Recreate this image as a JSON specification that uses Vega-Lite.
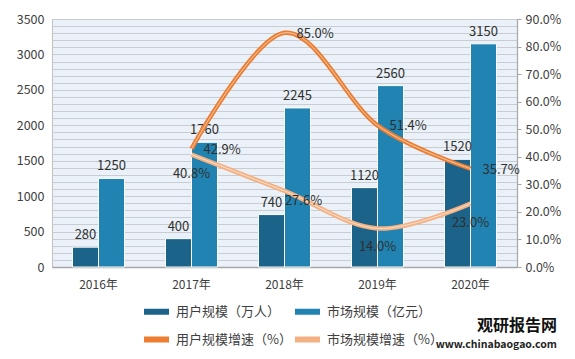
{
  "$schema": "https://vega.github.io/schema/vega-lite/v6.json",
  "autosize": {"type": "none"},
  "width": 465,
  "height": 248,
  "padding": {"left": 52, "top": 19, "right": 58, "bottom": 92},
  "background": "white",
  "config": {
    "font": "Noto Sans CJK SC",
    "view": {"fill": "#eaf1f8", "stroke": "#bfbfbf", "strokeWidth": 1},
    "axis": {"labelFont": "Noto Sans CJK SC", "labelColor": "#404040", "labelFontSize": 12, "title": null}
  },
  "title": {
    "text": "观研报告网",
    "subtitle": "www.chinabaogao.com",
    "orient": "bottom",
    "anchor": "end",
    "frame": "group",
    "fontSize": 16,
    "fontWeight": "bold",
    "color": "#111111",
    "subtitleFontSize": 10.5,
    "subtitleFontWeight": "bold",
    "subtitleColor": "#222222",
    "subtitlePadding": 6,
    "dx": 40,
    "offset": -34
  },
  "datasets": {
    "bars": [
      {"year": "2016年", "series": "用户规模（万人）", "value": 280},
      {"year": "2016年", "series": "市场规模（亿元）", "value": 1250},
      {"year": "2017年", "series": "用户规模（万人）", "value": 400},
      {"year": "2017年", "series": "市场规模（亿元）", "value": 1760},
      {"year": "2018年", "series": "用户规模（万人）", "value": 740},
      {"year": "2018年", "series": "市场规模（亿元）", "value": 2245},
      {"year": "2019年", "series": "用户规模（万人）", "value": 1120},
      {"year": "2019年", "series": "市场规模（亿元）", "value": 2560},
      {"year": "2020年", "series": "用户规模（万人）", "value": 1520},
      {"year": "2020年", "series": "市场规模（亿元）", "value": 3150}
    ],
    "lines": [
      {"year": "2017年", "series": "用户规模增速（%）", "value": 0.429},
      {"year": "2018年", "series": "用户规模增速（%）", "value": 0.85},
      {"year": "2019年", "series": "用户规模增速（%）", "value": 0.514},
      {"year": "2020年", "series": "用户规模增速（%）", "value": 0.357},
      {"year": "2017年", "series": "市场规模增速（%）", "value": 0.408},
      {"year": "2018年", "series": "市场规模增速（%）", "value": 0.276},
      {"year": "2019年", "series": "市场规模增速（%）", "value": 0.14},
      {"year": "2020年", "series": "市场规模增速（%）", "value": 0.23}
    ]
  },
  "encoding": {
    "x": {
      "field": "year", "type": "nominal", "sort": null,
      "scale": {"domain": ["2016年", "2017年", "2018年", "2019年", "2020年"], "paddingInner": 0.44, "paddingOuter": 0.22},
      "axis": {"labelAngle": 0, "ticks": false, "domainColor": "#a6a6a6", "domainWidth": 1.5, "labelPadding": 12, "grid": false}
    }
  },
  "layer": [
    {
      "data": {"name": "bars"},
      "encoding": {
        "y": {
          "field": "value", "type": "quantitative",
          "scale": {"domain": [0, 3500], "nice": false},
          "axis": {
            "values": [0,100,200,300,400,500,600,700,800,900,1000,1100,1200,1300,1400,1500,1600,1700,1800,1900,2000,2100,2200,2300,2400,2500,2600,2700,2800,2900,3000,3100,3200,3300,3400,3500],
            "labelExpr": "datum.value % 500 === 0 ? datum.label : ''",
            "format": "d",
            "ticks": false, "domain": false, "labelPadding": 8, "labelFontSize": 12.5,
            "grid": true, "gridColor": "#c9cdd1", "gridWidth": 1.2
          }
        }
      },
      "layer": [
        {
          "mark": {"type": "bar", "stroke": "white", "strokeWidth": 1},
          "encoding": {
            "xOffset": {"field": "series", "type": "nominal", "sort": ["用户规模（万人）", "市场规模（亿元）"]},
            "color": {
              "field": "series", "type": "nominal",
              "scale": {
                "domain": ["用户规模（万人）", "市场规模（亿元）", "用户规模增速（%）", "市场规模增速（%）"],
                "range": ["#1b6388", "#2083b1", "#ed7d31", "#f4b183"]
              },
              "legend": {
                "title": null, "orient": "none", "legendX": 89, "legendY": 277,
                "columns": 2, "direction": "horizontal",
                "symbolType": "stroke", "symbolSize": 625, "symbolStrokeWidth": 6,
                "labelFontSize": 13, "labelColor": "#404040", "labelOffset": 4,
                "columnPadding": -14, "rowPadding": 0, "padding": 0,
                "labelLimit": 200
              }
            }
          }
        },
        {
          "mark": {"type": "text", "baseline": "bottom", "dy": -5, "fontSize": 13, "color": "#303030"},
          "encoding": {
            "xOffset": {"field": "series", "type": "nominal", "sort": ["用户规模（万人）", "市场规模（亿元）"]},
            "text": {"field": "value", "type": "quantitative", "format": "d"}
          }
        }
      ]
    },
    {
      "data": {"name": "lines"},
      "encoding": {
        "y": {
          "field": "value", "type": "quantitative",
          "scale": {"domain": [0, 0.9], "nice": false},
          "axis": {
            "orient": "right", "format": ".1%",
            "values": [0, 0.1, 0.2, 0.3, 0.4, 0.5, 0.6, 0.7, 0.8, 0.9],
            "grid": false, "domainColor": "#a6a6a6", "domainWidth": 1.2,
            "tickColor": "#a6a6a6", "tickSize": 4, "labelPadding": 4, "labelFontSize": 12.5
          }
        }
      },
      "layer": [
        {
          "mark": {"type": "line", "interpolate": "cardinal", "strokeWidth": 4.5},
          "encoding": {"color": {"field": "series", "type": "nominal"}}
        },
        {
          "mark": {"type": "line", "interpolate": "cardinal", "strokeWidth": 1, "color": "white", "opacity": 0.6},
          "encoding": {"detail": {"field": "series", "type": "nominal"}}
        },
        {
          "transform": [{"filter": "datum.series === '用户规模增速（%）'"}],
          "mark": {"type": "text", "align": "left", "baseline": "middle", "dx": 12, "dy": 1, "fontSize": 13, "color": "#303030"},
          "encoding": {"text": {"field": "value", "type": "quantitative", "format": ".1%"}}
        },
        {
          "transform": [{"filter": "datum.series === '市场规模增速（%）' && datum.year !== '2018年'"}],
          "mark": {"type": "text", "align": "center", "baseline": "middle", "dy": 19, "fontSize": 13, "color": "#303030"},
          "encoding": {"text": {"field": "value", "type": "quantitative", "format": ".1%"}}
        },
        {
          "transform": [{"filter": "datum.series === '市场规模增速（%）' && datum.year === '2018年'"}],
          "mark": {"type": "text", "align": "center", "baseline": "middle", "dx": 19, "dy": 10, "fontSize": 13, "color": "#303030"},
          "encoding": {"text": {"field": "value", "type": "quantitative", "format": ".1%"}}
        }
      ]
    }
  ],
  "resolve": {"scale": {"y": "independent"}}
}
